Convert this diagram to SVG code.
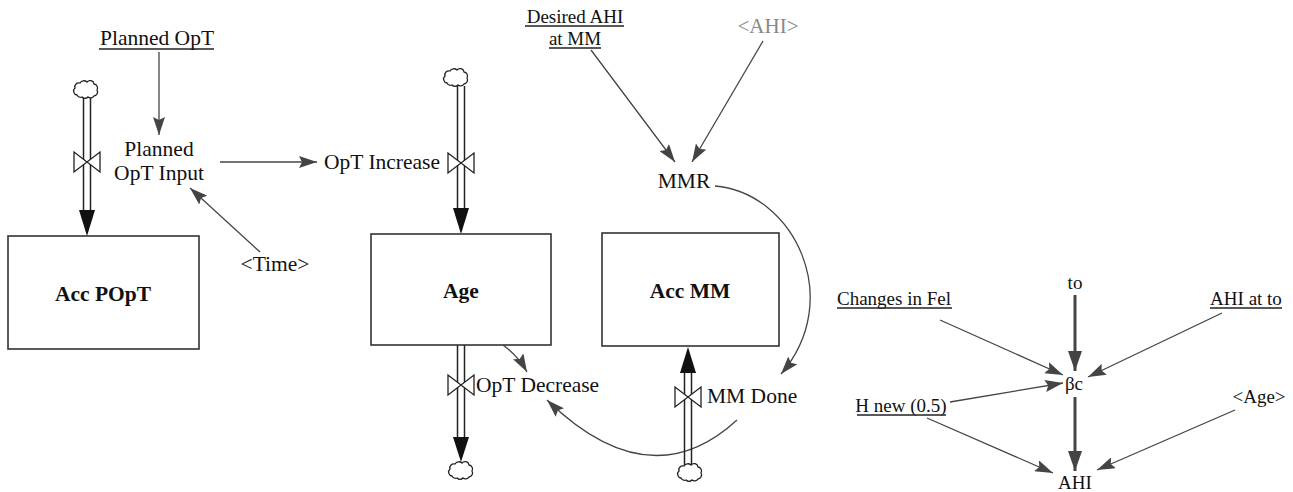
<svg xmlns="http://www.w3.org/2000/svg" width="1293" height="492" viewBox="0 0 1293 492">
<defs>
<marker id="ah" markerUnits="userSpaceOnUse" markerWidth="20" markerHeight="12" refX="18" refY="6" orient="auto"><path d="M0,0 L18,6 L0,12 L3,6 z" fill="#444"/></marker>
<marker id="ahb" markerUnits="userSpaceOnUse" markerWidth="22" markerHeight="14" refX="20" refY="7" orient="auto"><path d="M0,0 L20,7 L0,14 z" fill="#444"/></marker>
<path id="cl" d="M-9,5 a4,4 0 0 1 -2,-7 a4,4 0 0 1 5,-5 a4.5,4.5 0 0 1 7,-1 a4,4 0 0 1 7,2 a4,4 0 0 1 3,6 a4,4 0 0 1 -3,6 a4,4 0 0 1 -6,1 a4,4 0 0 1 -6,0 a4,4 0 0 1 -5,-2 z" fill="#fff" stroke="#222" stroke-width="1.3"/>
<path id="vl" d="M-13,-10 L-13,10 L13,-10 L13,10 z" fill="#fff" stroke="#222" stroke-width="1.3"/>
</defs>
<g id="connectors" stroke="#444" stroke-width="1.3" fill="none">
<line x1="159" y1="52" x2="159" y2="135" marker-end="url(#ah)"/>
<line x1="220" y1="162" x2="317" y2="162" marker-end="url(#ah)"/>
<line x1="260" y1="252" x2="190" y2="188" marker-end="url(#ah)"/>
<line x1="591" y1="50" x2="675" y2="162" marker-end="url(#ah)"/>
<line x1="763" y1="41" x2="692" y2="162" marker-end="url(#ah)"/>
<path d="M715,186 C795,193 845,300 781,374" marker-end="url(#ah)"/>
<path d="M503,345 Q518,356 527,372" marker-end="url(#ah)"/>
<path d="M737,420 Q650,500 547,400" marker-end="url(#ah)"/>
<line x1="1075" y1="295" x2="1075" y2="371" stroke-width="3" marker-end="url(#ahb)"/>
<line x1="940" y1="320" x2="1063" y2="375" marker-end="url(#ah)"/>
<line x1="1222" y1="313" x2="1088" y2="377" marker-end="url(#ah)"/>
<line x1="950" y1="402" x2="1063" y2="383" marker-end="url(#ah)"/>
<line x1="1075" y1="397" x2="1075" y2="471" stroke-width="3" marker-end="url(#ahb)"/>
<line x1="927" y1="418" x2="1053" y2="473" marker-end="url(#ah)"/>
<line x1="1235" y1="410" x2="1097" y2="470" marker-end="url(#ah)"/>
</g>
<g id="flow-popt-in" stroke="#222" stroke-width="1.5">
<line x1="83.5" y1="98" x2="83.5" y2="212"/>
<line x1="90.5" y1="98" x2="90.5" y2="212"/>
<polygon fill="#111" stroke="none" points="79,210 95,210 87,236"/>
<use href="#cl" x="86" y="90"/>
<use href="#vl" x="87" y="162"/>
</g>
<g id="flow-opt-increase" stroke="#222" stroke-width="1.5">
<line x1="457.5" y1="86" x2="457.5" y2="210"/>
<line x1="464.5" y1="86" x2="464.5" y2="210"/>
<polygon fill="#111" stroke="none" points="453,208 469,208 461,234"/>
<use href="#cl" x="456" y="78"/>
<use href="#vl" x="461" y="163"/>
<text stroke="none" fill="#111" font-family="Liberation Serif" font-size="21.5" x="382" y="169" text-anchor="middle">OpT Increase</text>
</g>
<g id="flow-opt-decrease" stroke="#222" stroke-width="1.5">
<line x1="457.5" y1="345" x2="457.5" y2="440"/>
<line x1="464.5" y1="345" x2="464.5" y2="440"/>
<polygon fill="#111" stroke="none" points="453,437 469,437 461,462"/>
<use href="#cl" x="461" y="471"/>
<use href="#vl" x="461" y="385"/>
<text stroke="none" fill="#111" font-family="Liberation Serif" font-size="21.5" x="476" y="392">OpT Decrease</text>
</g>
<g id="flow-mm-done" stroke="#222" stroke-width="1.5">
<line x1="684.5" y1="372" x2="684.5" y2="466"/>
<line x1="691.5" y1="372" x2="691.5" y2="466"/>
<polygon fill="#111" stroke="none" points="680,373 696,373 688,347"/>
<use href="#cl" x="690" y="473"/>
<use href="#vl" x="688" y="397"/>
<text stroke="none" fill="#111" font-family="Liberation Serif" font-size="21.5" x="707" y="403">MM Done</text>
</g>
<g id="acc-popt">
<rect x="8" y="236" width="191" height="113" fill="#fff" stroke="#333" stroke-width="1.6"/>
<text fill="#111" font-family="Liberation Serif" font-size="21.5" font-weight="bold" text-anchor="middle" x="103" y="301">Acc POpT</text>
</g>
<g id="age">
<rect x="371" y="234" width="180" height="111" fill="#fff" stroke="#333" stroke-width="1.6"/>
<text fill="#111" font-family="Liberation Serif" font-size="21.5" font-weight="bold" text-anchor="middle" x="461" y="298">Age</text>
</g>
<g id="acc-mm">
<rect x="602" y="233" width="177" height="113" fill="#fff" stroke="#333" stroke-width="1.6"/>
<text fill="#111" font-family="Liberation Serif" font-size="21.5" font-weight="bold" text-anchor="middle" x="690" y="298">Acc MM</text>
</g>
<g id="planned-opt">
<text fill="#111" font-family="Liberation Serif" font-size="21.5" text-anchor="middle" x="157" y="45">Planned OpT</text>
<line x1="99" y1="49" x2="214" y2="49" stroke="#222" stroke-width="1.3"/>
</g>
<g id="planned-opt-input">
<text fill="#111" font-family="Liberation Serif" font-size="21.5" text-anchor="middle" x="159" y="156">Planned</text>
<text fill="#111" font-family="Liberation Serif" font-size="21.5" text-anchor="middle" x="159" y="180">OpT Input</text>
</g>
<g id="time">
<text fill="#111" font-family="Liberation Serif" font-size="21.5" text-anchor="middle" x="275" y="271">&lt;Time&gt;</text>
</g>
<g id="desired-ahi">
<text fill="#111" font-family="Liberation Serif" font-size="19" text-anchor="middle" x="575" y="23">Desired AHI</text>
<line x1="525" y1="26" x2="624" y2="26" stroke="#222" stroke-width="1.3"/>
<text fill="#111" font-family="Liberation Serif" font-size="19" text-anchor="middle" x="575" y="45">at MM</text>
<line x1="549" y1="48" x2="601" y2="48" stroke="#222" stroke-width="1.3"/>
</g>
<g id="ahi-shadow">
<text fill="#888" font-family="Liberation Serif" font-size="21" text-anchor="middle" x="768" y="33">&lt;AHI&gt;</text>
</g>
<g id="mmr">
<text fill="#111" font-family="Liberation Serif" font-size="21.5" text-anchor="middle" x="684" y="188">MMR</text>
</g>
<g id="to">
<text fill="#111" font-family="Liberation Serif" font-size="19" text-anchor="middle" x="1075" y="289">to</text>
</g>
<g id="changes-in-fel">
<text fill="#111" font-family="Liberation Serif" font-size="19" text-anchor="middle" x="894" y="305">Changes in Fel</text>
<line x1="837" y1="308" x2="952" y2="308" stroke="#222" stroke-width="1.3"/>
</g>
<g id="ahi-at-to">
<text fill="#111" font-family="Liberation Serif" font-size="19" text-anchor="middle" x="1246" y="305">AHI at to</text>
<line x1="1210" y1="308" x2="1282" y2="308" stroke="#222" stroke-width="1.3"/>
</g>
<g id="beta-c">
<text fill="#111" font-family="Liberation Serif" font-size="19" text-anchor="middle" x="1074" y="390">βc</text>
</g>
<g id="h-new">
<text fill="#111" font-family="Liberation Serif" font-size="19" text-anchor="middle" x="901" y="412">H new (0.5)</text>
<line x1="857" y1="415" x2="946" y2="415" stroke="#222" stroke-width="1.3"/>
</g>
<g id="age-shadow">
<text fill="#111" font-family="Liberation Serif" font-size="19" text-anchor="middle" x="1259" y="403">&lt;Age&gt;</text>
</g>
<g id="ahi">
<text fill="#111" font-family="Liberation Serif" font-size="19" text-anchor="middle" x="1075" y="489">AHI</text>
</g>
</svg>
